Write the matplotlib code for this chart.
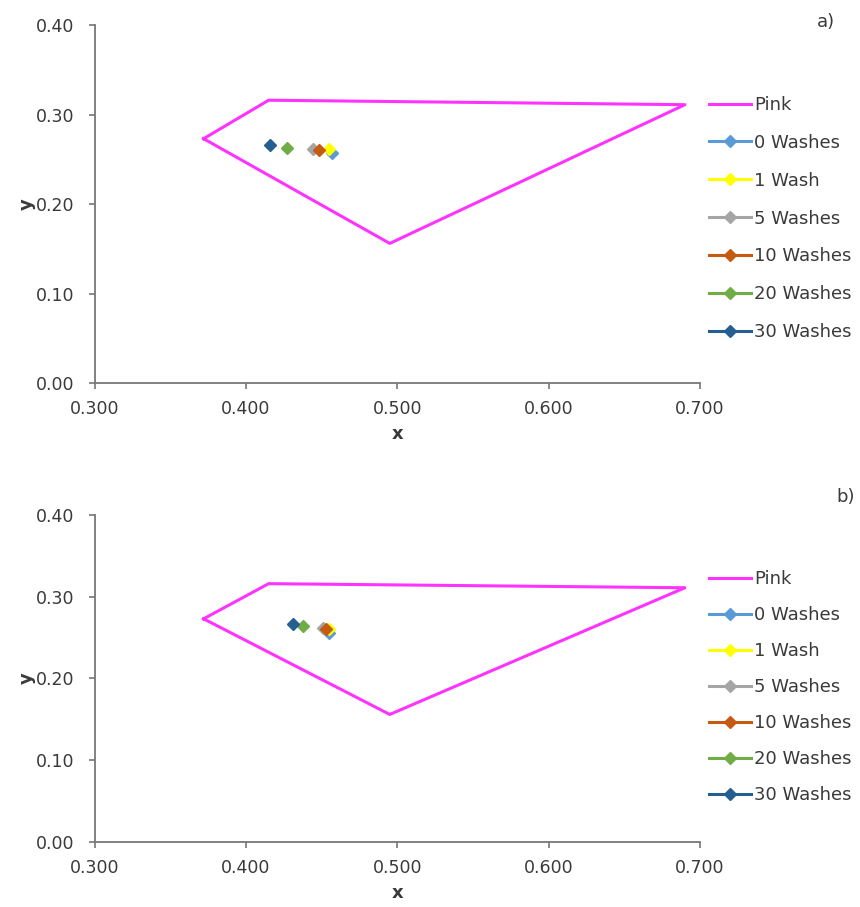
import matplotlib.pyplot as plt
from matplotlib.ticker import FormatStrFormatter

# --- DATA ---
pink_x = [0.372, 0.415, 0.690, 0.495, 0.372]
pink_y = [0.273, 0.316, 0.311, 0.156, 0.273]

series_labels = ["0 Washes", "1 Wash", "5 Washes", "10 Washes", "20 Washes", "30 Washes"]
series_colors = ["#5B9BD5", "#FFFF00", "#A5A5A5", "#C55A11", "#70AD47", "#255E91"]

# panel a)
a_x = [0.457, 0.455, 0.444, 0.448, 0.427, 0.416]
a_y = [0.257, 0.261, 0.262, 0.260, 0.263, 0.266]

# panel b)
b_x = [0.455, 0.455, 0.451, 0.453, 0.438, 0.431]
b_y = [0.256, 0.261, 0.262, 0.261, 0.264, 0.267]

x_ticks = [0.3, 0.4, 0.5, 0.6, 0.7]
y_ticks = [0.0, 0.1, 0.2, 0.3, 0.4]

txt = '#3a3a3a'
axis_c = '#777777'

fig = plt.figure(figsize=(8.6, 9.07), dpi=100)


def draw_panel(ax, px, py, tag, tag_pos, leg_center, leg_spacing):
    ax.plot(pink_x, pink_y, color='#FF33FF', lw=2.2, label='Pink', zorder=2)
    for xv, yv, lab, col in zip(px, py, series_labels, series_colors):
        ax.plot([xv], [yv], color=col, marker='D', markersize=6.5, lw=2.2,
                label=lab, zorder=3)
    ax.set_xlim(0.3, 0.7)
    ax.set_ylim(0.0, 0.4)
    ax.set_xticks(x_ticks)
    ax.set_yticks(y_ticks)
    ax.xaxis.set_major_formatter(FormatStrFormatter('%.3f'))
    ax.yaxis.set_major_formatter(FormatStrFormatter('%.2f'))
    for s in ['top', 'right']:
        ax.spines[s].set_visible(False)
    for s in ['left', 'bottom']:
        ax.spines[s].set_color(axis_c)
        ax.spines[s].set_linewidth(1.3)
    ax.tick_params(colors=axis_c, labelcolor=txt, labelsize=12.5, length=4.5, width=1.2)
    ax.tick_params(axis='y', pad=10)
    ax.tick_params(axis='x', pad=8)
    ax.set_xlabel('x', color=txt, fontsize=13, fontweight='bold', labelpad=5)
    ax.set_ylabel('y', color=txt, fontsize=13, fontweight='bold', labelpad=0)
    fig.text(tag_pos[0], tag_pos[1], tag, color=txt, fontsize=13, ha='center', va='center')
    ax.legend(loc='center left', bbox_to_anchor=leg_center, bbox_transform=fig.transFigure,
              frameon=False, fontsize=13, handlelength=2.3, handletextpad=0.2,
              labelspacing=leg_spacing, borderpad=0, borderaxespad=0, labelcolor=txt)


ax_a = fig.add_axes([0.110, 0.5777, 0.704, 0.3947])
draw_panel(ax_a, a_x, a_y, 'a)', (826 / 860, 1 - 22 / 907), (709 / 860, 1 - 218.5 / 907), 1.1)

ax_b = fig.add_axes([0.110, 0.0717, 0.704, 0.3605])
draw_panel(ax_b, b_x, b_y, 'b)', (846 / 860, 1 - 497 / 907), (709 / 860, 1 - 687 / 907), 1.0)

fig.savefig('out.png', dpi=100)
